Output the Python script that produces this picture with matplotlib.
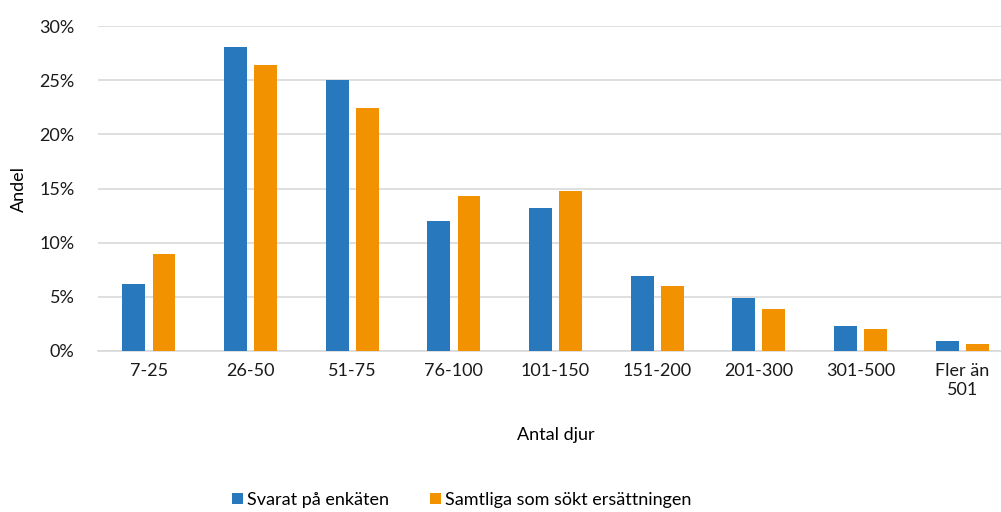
import matplotlib
matplotlib.use("Agg")
import matplotlib.pyplot as plt
import numpy as np
from matplotlib.ticker import PercentFormatter

categories = ["7-25", "26-50", "51-75", "76-100", "101-150", "151-200", "201-300", "301-500", "Fler än\n501"]
svarat = [6.2, 28.1, 25.0, 12.0, 13.2, 6.9, 4.9, 2.3, 0.9]
samtliga = [9.0, 26.4, 22.4, 14.3, 14.8, 6.0, 3.9, 2.0, 0.65]
series_names = ["Svarat på enkäten", "Samtliga som sökt ersättningen"]
yticks = [0, 5, 10, 15, 20, 25, 30]

plt.rcParams['font.family'] = ['Lato', 'DejaVu Sans']

fig = plt.figure(figsize=(10.01, 5.12), dpi=100)
ax = fig.add_axes([0.098, 0.3145, 0.914, 0.6345])

x = np.arange(len(categories))
w = 0.225
blue = "#2878BD"
orange = "#F39200"
ax.bar(x - 0.148, svarat, width=w, color=blue, label=series_names[0], zorder=3)
ax.bar(x + 0.148, samtliga, width=w, color=orange, label=series_names[1], zorder=3)

ax.set_xlim(-0.5, len(categories) - 0.5)
ax.set_ylim(0, 30)
ax.set_yticks(yticks)
ax.yaxis.set_major_formatter(PercentFormatter(decimals=0))
ax.set_xticks(x)
ax.set_xticklabels(categories)
ax.grid(axis='y', color="#d9d9d9", linewidth=1.2, zorder=0)
for s in ["top", "right", "left"]:
    ax.spines[s].set_visible(False)
ax.spines["bottom"].set_color("#d9d9d9")
ax.spines["bottom"].set_linewidth(1.2)
ax.tick_params(axis='both', length=0, labelsize=13, colors="#1a1a1a")
ax.tick_params(axis='y', pad=17)
ax.tick_params(axis='x', pad=9)
ax.set_ylabel("Andel", fontsize=13, labelpad=9)
ax.set_xlabel("Antal djur", fontsize=13, labelpad=21)

fig.legend(loc="lower left", bbox_to_anchor=(0.232, 0.008), ncol=2, frameon=False,
           fontsize=13, handlelength=0.6, handleheight=0.6, handletextpad=0.2,
           columnspacing=2.3, borderpad=0, borderaxespad=0)

fig.savefig("out.png", dpi=100)
